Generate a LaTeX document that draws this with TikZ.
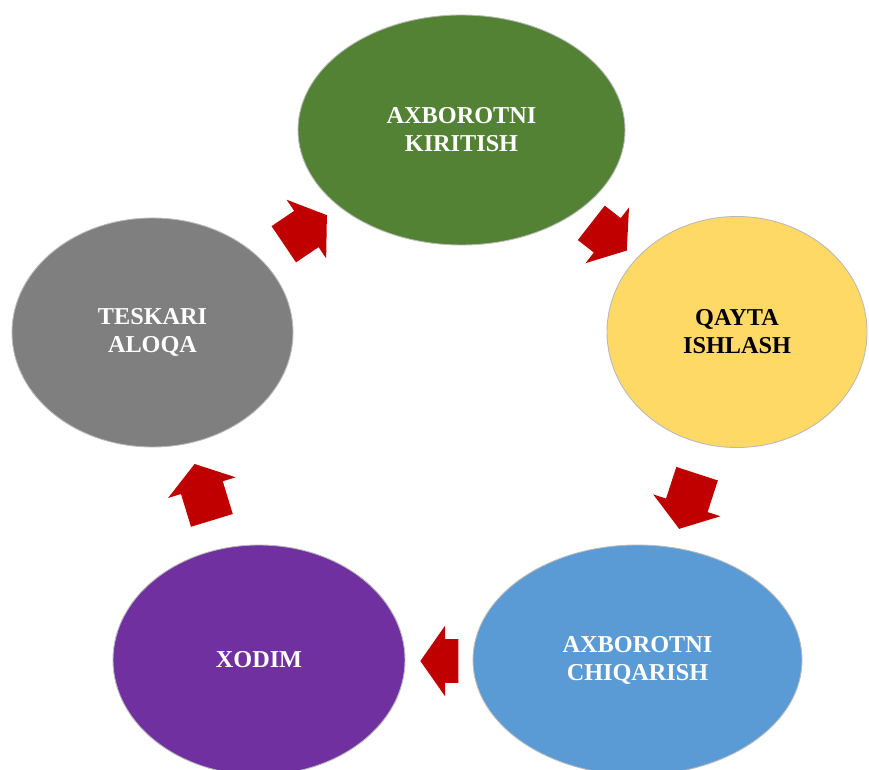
\documentclass[tikz,border=0pt]{standalone}
\usepackage{fontspec}
\setmainfont{Liberation Serif}
\usetikzlibrary{shapes.geometric,shapes.arrows,positioning}
\definecolor{kirgreen}{HTML}{548235}
\definecolor{qayyellow}{HTML}{FFD966}
\definecolor{chiqblue}{HTML}{5B9BD5}
\definecolor{xodpurple}{HTML}{7030A0}
\definecolor{tesgray}{HTML}{7F7F7F}
\definecolor{arrred}{HTML}{C00000}
\tikzset{
bubble/.style={
  ellipse,
  draw=gray!55,
  line width=0.5pt,
  inner sep=0pt,
  align=center,
  text=white,
  font=\fontsize{13.8}{16}\selectfont\bfseries,
  }
}
\tikzset{
cyclearrow/.style={
  single arrow,
  fill=arrred,
  draw=none,
  inner xsep=0pt,
  inner ysep=0.43cm,
  minimum width=1.4cm,
  single arrow head extend=0.27cm,
  single arrow tip angle=110,
  }
}

\begin{document}
\begin{tikzpicture}
    \useasboundingbox (0,0) rectangle (17.38,15.38);
    \node[bubble, fill=kirgreen, minimum width=6.54cm, minimum height=4.6cm] (kirit) at (9.23,12.78) {AXBOROTNI\\KIRITISH};
    \node[bubble, fill=qayyellow, text=black, minimum width=5.2cm, minimum height=4.62cm] (qayta) at (14.74,8.74) {QAYTA\\ISHLASH};
    \node[bubble, fill=chiqblue, minimum width=6.58cm, minimum height=4.6cm] (chiq) at (12.75,2.18) {AXBOROTNI\\CHIQARISH};
    \node[bubble, fill=xodpurple, minimum width=5.84cm, minimum height=4.6cm] (xodim) at (5.18,2.18) {XODIM};
    \node[bubble, fill=tesgray, minimum width=5.62cm, minimum height=4.58cm] (teskari) at (3.05,8.73) {TESKARI\\ALOQA};

    % arrows between the bubbles
    \node[cyclearrow, minimum height=0.9cm, rotate=-38] (kq) at (12.06,10.74) {};
    \node[cyclearrow, minimum height=1.16cm, rotate=-108] (qc) at (13.81,5.50) {};
    \node[cyclearrow, minimum height=0.76cm, rotate=180] (cx) at (8.94,2.16) {};
    \node[cyclearrow, minimum height=1.18cm, rotate=107] (xt) at (4.11,5.39) {};
    \node[cyclearrow, minimum height=1.04cm, rotate=34] (tk) at (5.98,10.70) {};
\end{tikzpicture}
\end{document}
